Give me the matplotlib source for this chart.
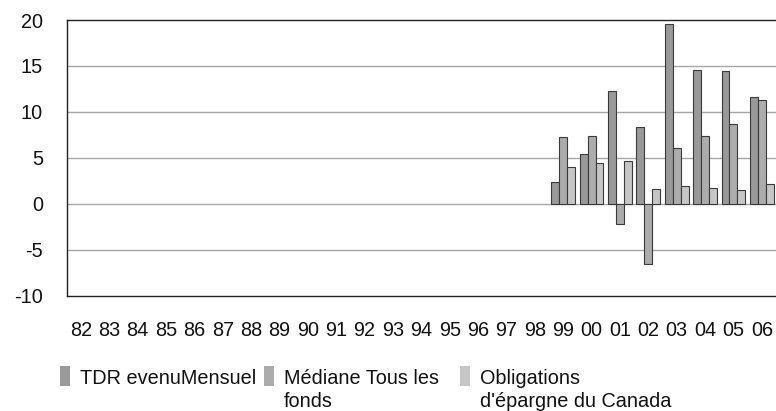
import numpy as np
import matplotlib
matplotlib.use('Agg')
from matplotlib import pyplot as plt
from matplotlib.patches import Rectangle

plt.rcParams['font.family'] = ['Liberation Sans', 'DejaVu Sans']
plt.rcParams['axes.unicode_minus'] = False

years = ['82', '83', '84', '85', '86', '87', '88', '89', '90', '91', '92', '93',
         '94', '95', '96', '97', '98', '99', '00', '01', '02', '03', '04', '05', '06']

nan = np.nan
# only 1999-2006 have values
tdr_revenu = [nan] * 17 + [2.4, 5.4, 12.3, 8.4, 19.6, 14.6, 14.4, 11.6]
mediane = [nan] * 17 + [7.3, 7.4, -2.2, -6.6, 6.1, 7.4, 8.7, 11.3]
obligations = [nan] * 17 + [4.0, 4.4, 4.6, 1.6, 1.9, 1.7, 1.5, 2.1]

labels = ['TDR evenuMensuel', 'Médiane Tous les\nfonds', "Obligations\nd'épargne du Canada"]
colors = ['#999999', '#acacac', '#c6c6c6']

W, H = 776, 411
fig = plt.figure(figsize=(W / 100, H / 100), dpi=100)
ax = fig.add_axes([66.7 / W, 1 - 295.5 / H, 1 - 66.7 / W, 275.5 / H])

x = np.arange(len(years))
bw = 0.28
for i, (vals, col) in enumerate(zip([tdr_revenu, mediane, obligations], colors)):
    ax.bar(x + (i - 1) * bw, vals, bw, color=col, edgecolor='#3a3a3a', linewidth=0.8, zorder=3)

ax.set_xlim(-0.5, len(years) - 0.5)
ax.set_ylim(-10, 20)
ax.set_yticks(range(-10, 21, 5))
ax.set_xticks(x)
ax.set_xticklabels(years)
ax.tick_params(axis='both', length=0, labelsize=14.3, labelcolor='#111111')
ax.tick_params(axis='y', pad=17)
ax.tick_params(axis='x', pad=18)

for v in [-5, 0, 5, 10, 15]:
    ax.axhline(v, color='#a6a6a6', linewidth=1.0, zorder=1)

for s in ['top', 'bottom', 'left']:
    ax.spines[s].set_color('#222222')
    ax.spines[s].set_linewidth(1.0)
ax.spines['right'].set_visible(False)

# legend drawn by hand, like the original
leg_x = [60, 264, 460]
for lab, col, lx in zip(labels, colors, leg_x):
    fig.add_artist(Rectangle((lx / W, 1 - 385.7 / H), 10 / W, 20 / H,
                             transform=fig.transFigure, color=col, lw=0))
    fig.text((lx + 20) / W, 1 - 368.5 / H, lab, fontsize=14.3, va='top', ha='left',
             linespacing=1.3, color='#111111')

plt.savefig('out.png', dpi=100)
